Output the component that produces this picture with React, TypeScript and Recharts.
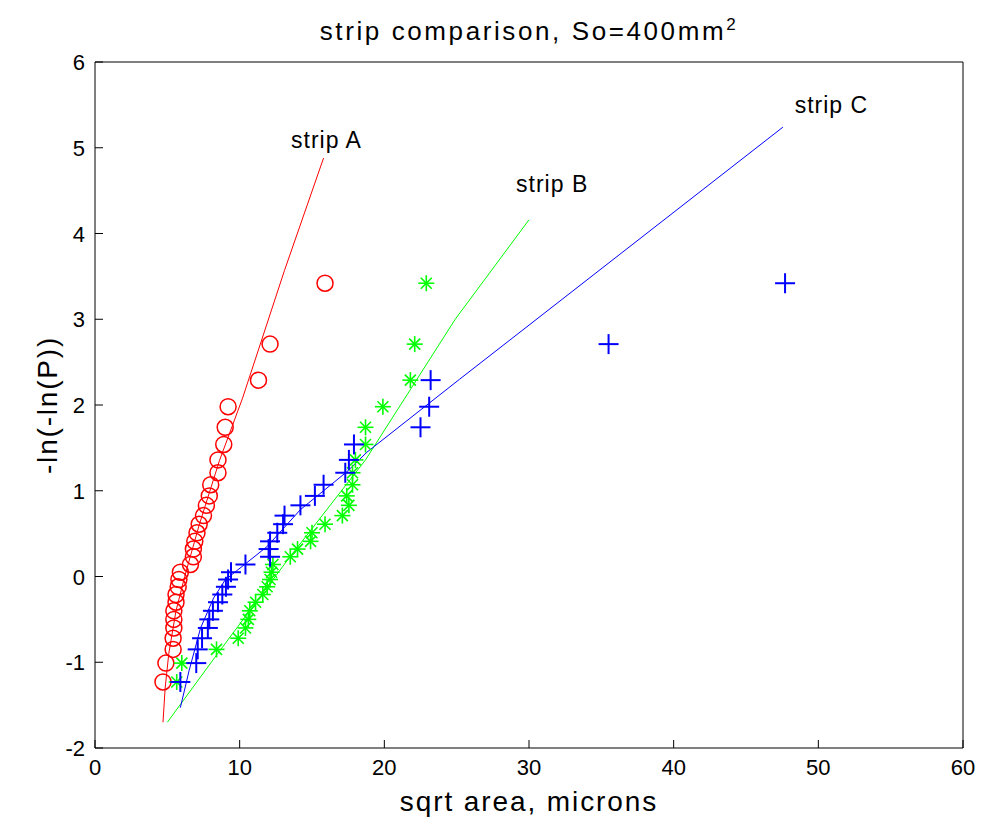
import { ScatterChart, Scatter, XAxis, YAxis, ReferenceDot } from 'recharts';

// -ln(-ln(P)) levels shared by all three strips
const levels = [
  -1.23, -1.01, -0.85, -0.72, -0.6, -0.5, -0.4, -0.3, -0.21, -0.12, -0.035, 0.05, 0.14, 0.23, 0.32,
  0.41, 0.51, 0.61, 0.71, 0.83, 0.94, 1.07, 1.21, 1.36, 1.54, 1.74, 1.98, 2.29, 2.71, 3.42,
];

const stripA = [
  4.7, 4.9, 5.4, 5.4, 5.45, 5.45, 5.45, 5.6, 5.6, 5.75, 5.8, 5.9, 6.6, 6.8, 6.8,
  6.9, 7.05, 7.2, 7.5, 7.7, 7.9, 8.0, 8.5, 8.5, 8.9, 9.0, 9.2, 11.3, 12.1, 15.9,
];
const stripB = [
  5.65, 6.0, 8.4, 9.9, 10.4, 10.6, 10.7, 11.1, 11.6, 11.9, 12.1, 12.2, 12.3, 13.5, 14.0,
  14.9, 15.0, 15.9, 17.1, 17.55, 17.4, 17.8, 17.8, 18.0, 18.7, 18.7, 19.9, 21.8, 22.1, 22.9,
];
const stripC = [
  5.9, 7.0, 7.1, 7.4, 7.8, 7.9, 8.15, 8.5, 8.8, 9.05, 9.2, 9.4, 10.4, 12.1, 12.0,
  12.1, 12.6, 13.0, 13.1, 14.2, 15.2, 15.8, 17.3, 17.55, 17.9, 22.5, 23.1, 23.2, 35.5, 47.7,
];

// fitted curves
const fitA = [
  { x: 4.7, y: -1.7 }, { x: 4.85, y: -1.3 }, { x: 5.1, y: -0.9 }, { x: 5.6, y: -0.4 },
  { x: 6.2, y: 0 }, { x: 7.2, y: 0.6 }, { x: 8.6, y: 1.35 }, { x: 10.2, y: 2.08 },
  { x: 13.1, y: 3.57 }, { x: 15.8, y: 4.88 },
];
const fitB = [
  { x: 5.0, y: -1.7 }, { x: 8.3, y: -0.94 }, { x: 13.3, y: 0.19 }, { x: 18.7, y: 1.36 },
  { x: 24.9, y: 3.0 }, { x: 30.0, y: 4.16 },
];
const fitC = [
  { x: 5.9, y: -1.53 }, { x: 6.5, y: -1.1 }, { x: 7.3, y: -0.6 }, { x: 8.2, y: -0.25 },
  { x: 9.0, y: -0.04 }, { x: 11.9, y: 0.35 }, { x: 14.2, y: 0.78 }, { x: 17.4, y: 1.22 },
  { x: 18.8, y: 1.45 }, { x: 25.2, y: 2.3 }, { x: 47.55, y: 5.24 },
];

const labelNames = ['strip A', 'strip B', 'strip C'];
const labelX = [16.0, 31.6, 50.9];
const labelY = [5.09, 4.58, 5.5];

const xTicks = [0, 10, 20, 30, 40, 50, 60];
const yTicks = [-2, -1, 0, 1, 2, 3, 4, 5, 6];

const pts = (xs: number[]) => xs.map((x, i) => ({ x, y: levels[i] }));

const FONT = '"Liberation Sans", Arial, sans-serif';
const TICK = 8;

const Circle = ({ cx, cy }: any) => (
  <circle cx={cx} cy={cy} r={8} fill="none" stroke="#ff0000" strokeWidth={1.5} />
);
const Plus = ({ cx, cy }: any) => (
  <g stroke="#0000ff" strokeWidth={2}>
    <line x1={cx - 10} x2={cx + 10} y1={cy} y2={cy} />
    <line x1={cx} x2={cx} y1={cy - 10} y2={cy + 10} />
  </g>
);
const Star = ({ cx, cy }: any) => (
  <g stroke="#00ff00" strokeWidth={1.6}>
    <line x1={cx - 8} x2={cx + 8} y1={cy} y2={cy} />
    <line x1={cx} x2={cx} y1={cy - 8} y2={cy + 8} />
    <line x1={cx - 5.5} x2={cx + 5.5} y1={cy - 5.5} y2={cy + 5.5} />
    <line x1={cx - 5.5} x2={cx + 5.5} y1={cy + 5.5} y2={cy - 5.5} />
  </g>
);
const NoDot = () => <g />;

const BottomTick = ({ x, y, payload }: any) => (
  <g>
    <line x1={x} x2={x} y1={y} y2={y - TICK} stroke="#000" />
    <text x={x} y={y + 27} textAnchor="middle" fontSize={22} fontFamily={FONT} fill="#000">
      {payload.value}
    </text>
  </g>
);
const TopTick = ({ x, y }: any) => <line x1={x} x2={x} y1={y} y2={y + TICK} stroke="#000" />;
const LeftTick = ({ x, y, payload }: any) => (
  <g>
    <line x1={x} x2={x + TICK} y1={y} y2={y} stroke="#000" />
    <text x={x - 10} y={y + 8} textAnchor="end" fontSize={22} fontFamily={FONT} fill="#000">
      {payload.value}
    </text>
  </g>
);
const RightTick = ({ x, y }: any) => <line x1={x} x2={x - TICK} y1={y} y2={y} stroke="#000" />;

export default function App() {
  return (
    <div style={{ position: 'absolute', left: 0, top: 0, width: 981, height: 826, background: '#fff' }}>
      <div
        style={{
          position: 'absolute',
          left: 95,
          width: 868,
          top: 15,
          textAlign: 'center',
          fontFamily: FONT,
          fontSize: 26,
          letterSpacing: 2.6,
          color: '#000',
        }}
      >
        strip comparison, So=400mm<sup style={{ fontSize: 17 }}>2</sup>
      </div>
      <ScatterChart width={981} height={826} margin={{ top: 61, right: 17, bottom: 0, left: 0 }}>
        <XAxis
          xAxisId="b"
          type="number"
          dataKey="x"
          domain={[0, 60]}
          ticks={xTicks}
          height={78}
          tickSize={0}
          tickMargin={0}
          tickLine={false}
          tick={<BottomTick />}
          axisLine={{ stroke: '#000' }}
          allowDataOverflow
          label={{ value: 'sqrt area, microns', position: 'insideBottom', offset: 15, fontSize: 28, letterSpacing: 1.9, fontFamily: FONT, fill: '#000' }}
        />
        <XAxis
          xAxisId="t"
          orientation="top"
          type="number"
          dataKey="x"
          domain={[0, 60]}
          ticks={xTicks}
          height={1}
          tickSize={0}
          tickMargin={0}
          tickLine={false}
          tick={<TopTick />}
          axisLine={{ stroke: '#000' }}
        />
        <YAxis
          yAxisId="l"
          type="number"
          dataKey="y"
          domain={[-2, 6]}
          ticks={yTicks}
          width={95}
          tickSize={0}
          tickMargin={0}
          tickLine={false}
          tick={<LeftTick />}
          axisLine={{ stroke: '#000' }}
          allowDataOverflow
          label={{ value: '-ln(-ln(P))', angle: -90, position: 'center', fontSize: 28, letterSpacing: 1.8, fontFamily: FONT, fill: '#000' }}
        />
        <YAxis
          yAxisId="r"
          orientation="right"
          type="number"
          dataKey="y"
          domain={[-2, 6]}
          ticks={yTicks}
          width={1}
          tickSize={0}
          tickMargin={0}
          tickLine={false}
          tick={<RightTick />}
          axisLine={{ stroke: '#000' }}
        />
        <Scatter xAxisId="t" yAxisId="r" data={[]} shape={NoDot} isAnimationActive={false} />
        <Scatter xAxisId="b" yAxisId="l" data={fitA} line={{ stroke: '#ff0000', strokeWidth: 1 }} shape={NoDot} isAnimationActive={false} />
        <Scatter xAxisId="b" yAxisId="l" data={fitB} line={{ stroke: '#00ff00', strokeWidth: 1 }} shape={NoDot} isAnimationActive={false} />
        <Scatter xAxisId="b" yAxisId="l" data={fitC} line={{ stroke: '#0000ff', strokeWidth: 1 }} shape={NoDot} isAnimationActive={false} />
        <Scatter xAxisId="b" yAxisId="l" data={pts(stripA)} shape={Circle} isAnimationActive={false} />
        <Scatter xAxisId="b" yAxisId="l" data={pts(stripB)} shape={Star} isAnimationActive={false} />
        <Scatter xAxisId="b" yAxisId="l" data={pts(stripC)} shape={Plus} isAnimationActive={false} />
        {labelNames.map((name, i) => (
          <ReferenceDot
            key={name}
            xAxisId="b"
            yAxisId="l"
            x={labelX[i]}
            y={labelY[i]}
            r={0}
            fillOpacity={0}
            strokeOpacity={0}
            label={{ value: name, position: 'center', fontSize: 23, letterSpacing: 1, fontFamily: FONT, fill: '#000' }}
          />
        ))}
      </ScatterChart>
    </div>
  );
}
